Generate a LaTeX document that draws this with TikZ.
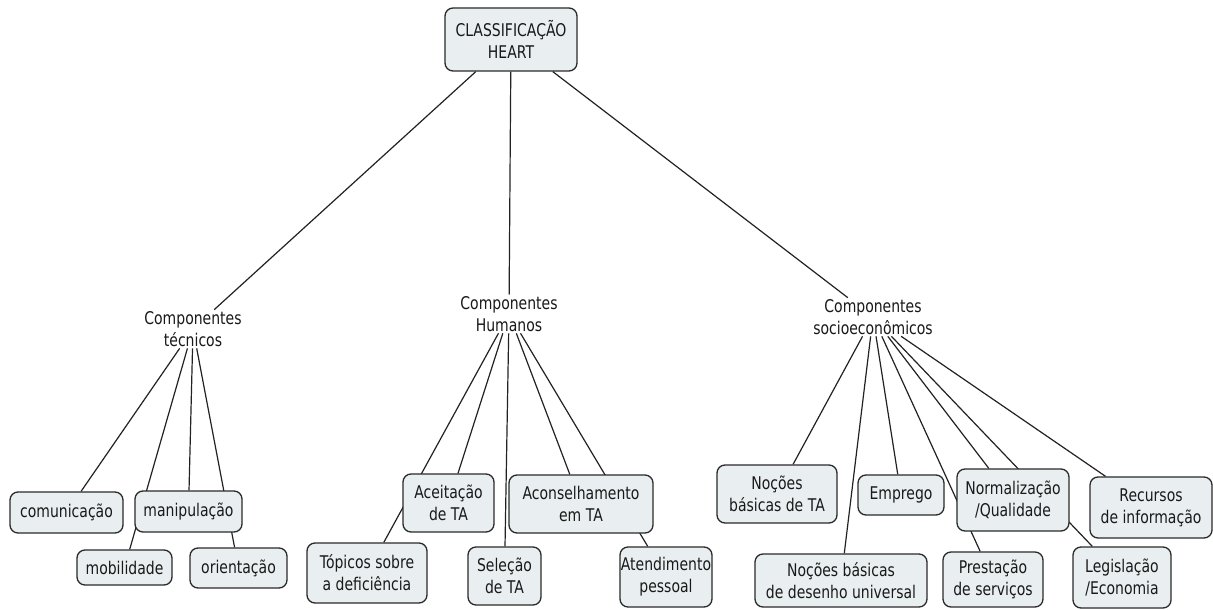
\documentclass[tikz,border=0pt]{standalone}
\usepackage{fontspec}
\setmainfont{DejaVu Sans}[FakeStretch=0.8]
\usetikzlibrary{backgrounds}
\definecolor{boxfill}{HTML}{E9EFF1}
\definecolor{boxdraw}{HTML}{2A2A2A}
\definecolor{linkcol}{HTML}{222222}
\tikzset{
  txt/.style={font=\fontsize{17.5}{22}\selectfont, align=center, text=black!90},
  cbox/.style={txt, draw=boxdraw, fill=boxfill, line width=1.3pt, rounded corners=8pt, inner sep=0pt},
  clabel/.style={txt, inner sep=1.5pt},
  link/.style={draw=linkcol, line width=1.2pt}
}
\begin{document}
\begin{tikzpicture}[x=1pt, y=-1pt]
\useasboundingbox (0,0) rectangle (1213,610);
% root
\node[cbox, minimum width=132pt, minimum height=63pt] (root) at (511,39.5) {CLASSIFICAÇÃO\\HEART};
% category labels
\node[clabel] (tec) at (193,329) {Componentes\\técnicos};
\node[clabel] (hum) at (509,314) {Componentes\\Humanos};
\node[clabel] (soc) at (873,317) {Componentes\\socioeconômicos};
% tecnicos
\node[cbox, minimum width=113pt, minimum height=41pt] (com) at (66.5,512.5) {comunicação};
\node[cbox, minimum width=107pt, minimum height=41pt] (man) at (188.5,511.5) {manipulação};
\node[cbox, minimum width=95pt, minimum height=35pt] (mob) at (124.5,567.5) {mobilidade};
\node[cbox, minimum width=97pt, minimum height=40pt] (ori) at (238.5,568) {orientação};
% humanos
\node[cbox, minimum width=91pt, minimum height=58pt] (ace) at (448.5,503) {Aceitação\\de TA};
\node[cbox, minimum width=144pt, minimum height=58pt] (acn) at (581,504) {Aconselhamento\\em TA};
\node[cbox, minimum width=120pt, minimum height=60pt] (top) at (367,573) {Tópicos sobre\\a deficiência};
\node[cbox, minimum width=73pt, minimum height=58pt] (sel) at (504.5,576) {Seleção\\de TA};
\node[cbox, minimum width=92pt, minimum height=60pt] (ate) at (666,577) {Atendimento\\pessoal};
% socioeconomicos
\node[cbox, minimum width=120pt, minimum height=58pt] (nta) at (777,494) {Noções\\básicas de TA};
\node[cbox, minimum width=86pt, minimum height=40pt] (emp) at (901,495) {Emprego};
\node[cbox, minimum width=112pt, minimum height=62pt] (nor) at (1013,500) {Normalização\\/Qualidade};
\node[cbox, minimum width=122pt, minimum height=61pt] (rec) at (1151,507.5) {Recursos\\de informação};
\node[cbox, minimum width=172pt, minimum height=53pt] (des) at (841,580.5) {Noções básicas\\de desenho universal};
\node[cbox, minimum width=100pt, minimum height=55pt] (pre) at (993,579.5) {Prestação\\de serviços};
\node[cbox, minimum width=98pt, minimum height=61pt] (leg) at (1122,577.5) {Legislação\\/Economia};
% connectors
\begin{scope}[on background layer]
\fill[white] (0,0) rectangle (1213,610);
\path[link] (root) -- (tec);
\path[link] (root) -- (hum);
\path[link] (root) -- (soc);
\path[link] (tec) -- (com);
\path[link] (tec) -- (man);
\path[link] (tec) -- (mob);
\path[link] (tec) -- (ori);
\path[link] (hum) -- (ace);
\path[link] (hum) -- (top);
\path[link] (hum) -- (sel);
\path[link] (hum) -- (acn);
\path[link] (hum) -- (ate);
\path[link] (soc) -- (nta);
\path[link] (soc) -- (des);
\path[link] (soc) -- (emp);
\path[link] (soc) -- (pre);
\path[link] (soc) -- (nor);
\path[link] (soc) -- (leg);
\path[link] (soc) -- (rec);
\end{scope}
\end{tikzpicture}
\end{document}
